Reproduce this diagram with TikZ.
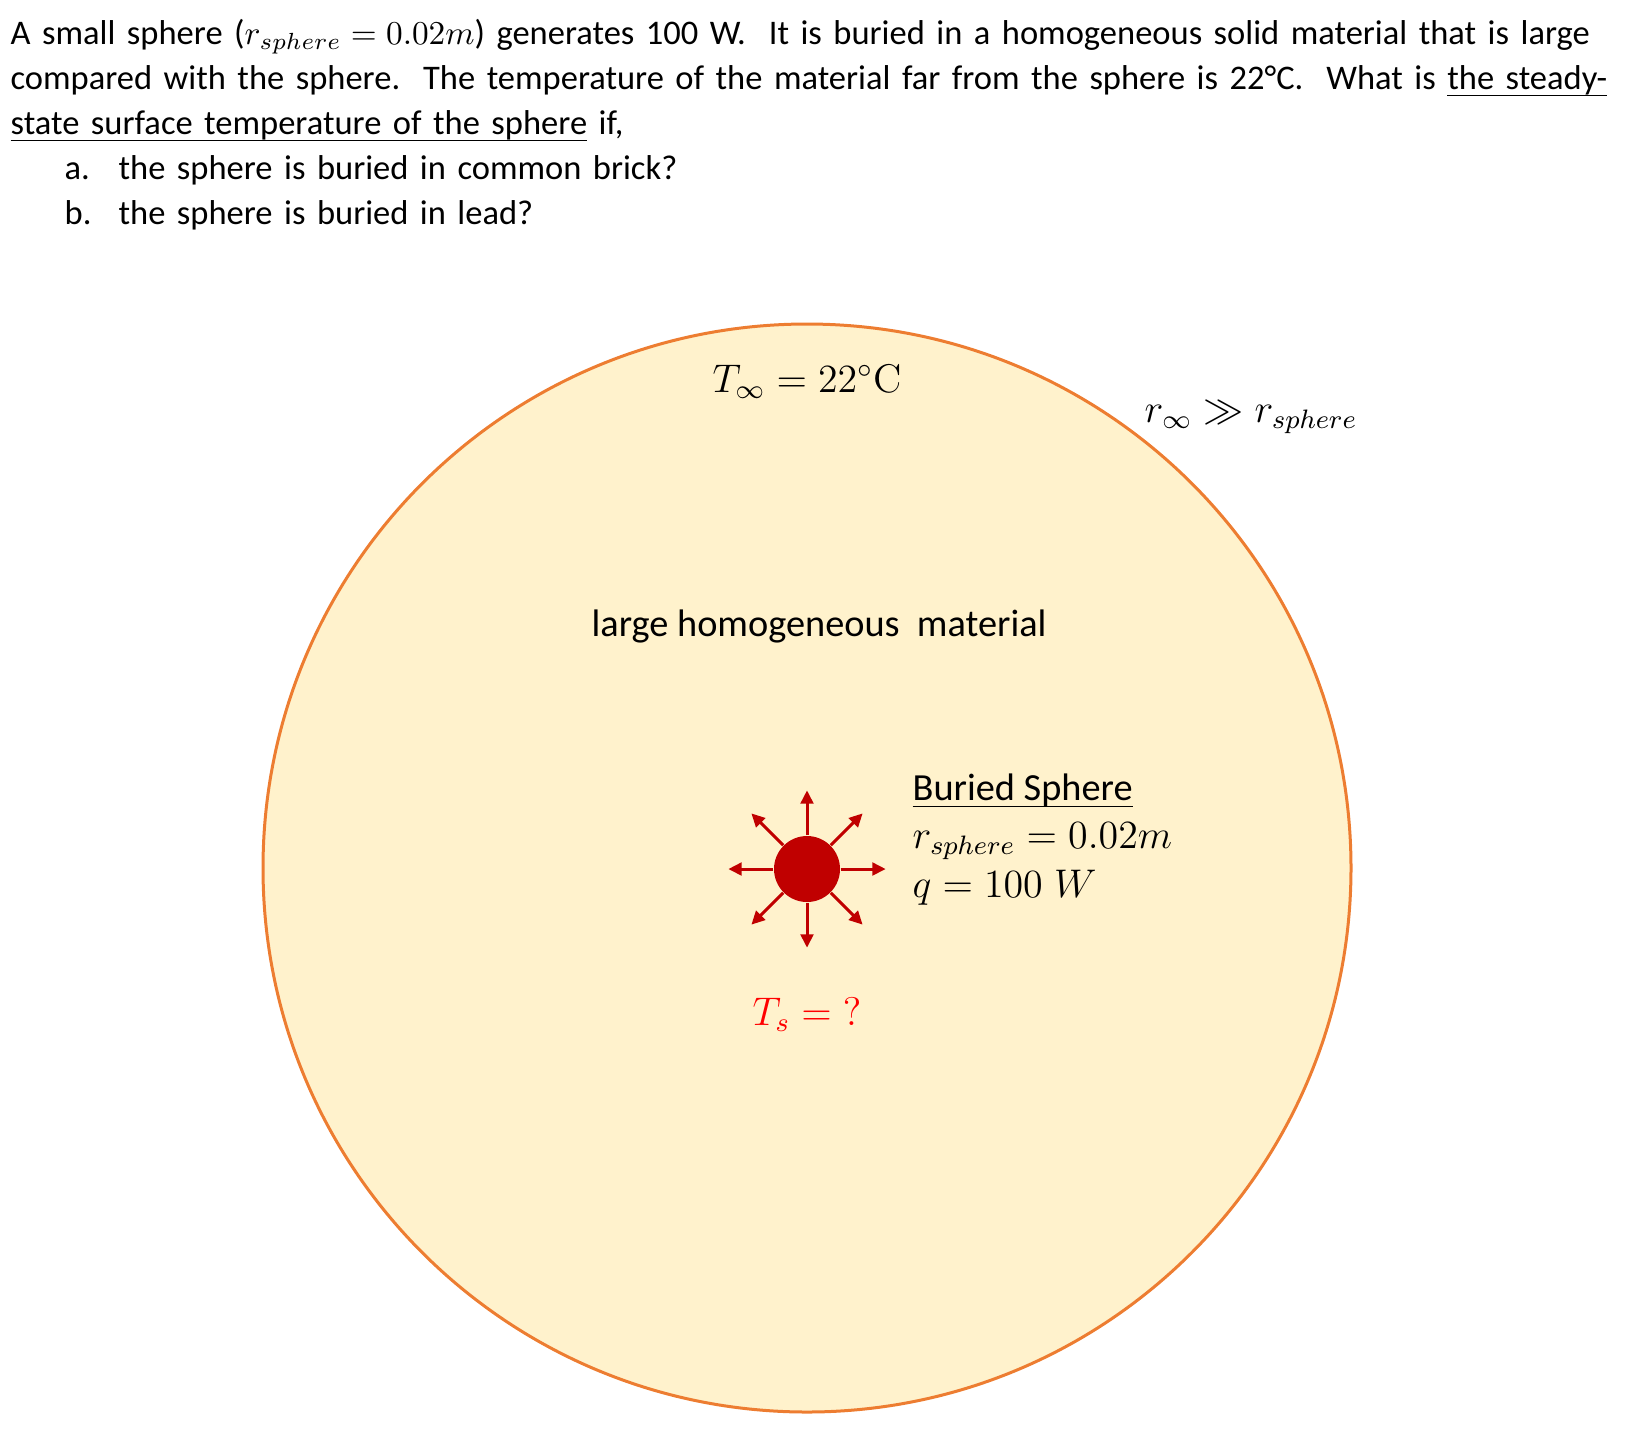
\documentclass[tikz,border=0pt]{standalone}
\usepackage[no-math]{fontspec}
\setmainfont{Carlito}
\usetikzlibrary{arrows.meta}

\definecolor{materialfill}{HTML}{FFF2CC}
\definecolor{materialedge}{HTML}{ED7D31}
\definecolor{spherered}{HTML}{C00000}
\definecolor{askred}{HTML}{FF0000}

% underline set through the descenders, as Word does
\newcommand{\uword}[1]{\leavevmode\setbox0\hbox{#1}\rlap{\rule[-2.2pt]{\wd0}{0.5pt}}\box0\relax}

\tikzset{
	heat/.style={spherered, line width=0.9pt, -{Triangle[length=4pt, width=3.8pt]}},
	label/.style={inner sep=0pt, font=\fontsize{12}{14}\selectfont},
	words/.style={inner sep=0pt, font=\fontsize{11.5}{14}\selectfont},
}

\begin{document}
\begin{tikzpicture}[x=0.3pt, y=0.3pt]
	\useasboundingbox (0,0) rectangle (1626,-1442);

	% problem statement
	\node[inner sep=0pt, anchor=base west, text width=560pt, align=left,
		font=\fontsize{10.35}{13.5}\selectfont\frenchspacing] (question) at (10,-44)
		{A small sphere ($r_{sphere}=0.02m$) generates 100 W.\ \ It is buried in a homogeneous solid material that is large\\
		compared with the sphere.\ \ The temperature of the material far from the sphere is 22°C.\ \ What is \uword{the steady-}\\
		\uword{state surface temperature of the sphere} if,\\
		\hspace*{16.2pt}\makebox[16.2pt][l]{a.}the sphere is buried in common brick?\\
		\hspace*{16.2pt}\makebox[16.2pt][l]{b.}the sphere is buried in lead?};

	% surrounding material and buried sphere
	\node[circle, draw=materialedge, fill=materialfill, line width=0.9pt,
		minimum size=326.4pt, inner sep=0pt] (material) at (807,-868) {};
	\node[circle, fill=spherered, minimum size=19.8pt, inner sep=0pt] (sphere) at (807,-869) {};
	\foreach \a in {0,45,...,315}
		\draw[heat] (sphere.\a) -- ++(\a:13.5pt);

	\node[label, anchor=base, font=\fontsize{11.7}{14}\selectfont] (tinf) at (807,-392) {$T_{\infty}=22^{\circ}\mathrm{C}$};
	\node[label, anchor=base west] (rinf) at (1144,-422) {$r_{\infty}\gg r_{sphere}$};
	\node[words, anchor=base west] (name) at (591,-636) {large homogeneous\ \ material};
	\node[words, anchor=base west] (buried) at (912,-800) {\uword{Buried Sphere}};
	\node[label, anchor=base west] (radius) at (912,-848) {$r_{sphere}=0.02m$};
	\node[label, anchor=base west] (power) at (912,-897) {$q=100\;W$};
	\node[label, anchor=base, text=askred] (ts) at (807,-1025) {$T_{s}={?}$};
\end{tikzpicture}
\end{document}
